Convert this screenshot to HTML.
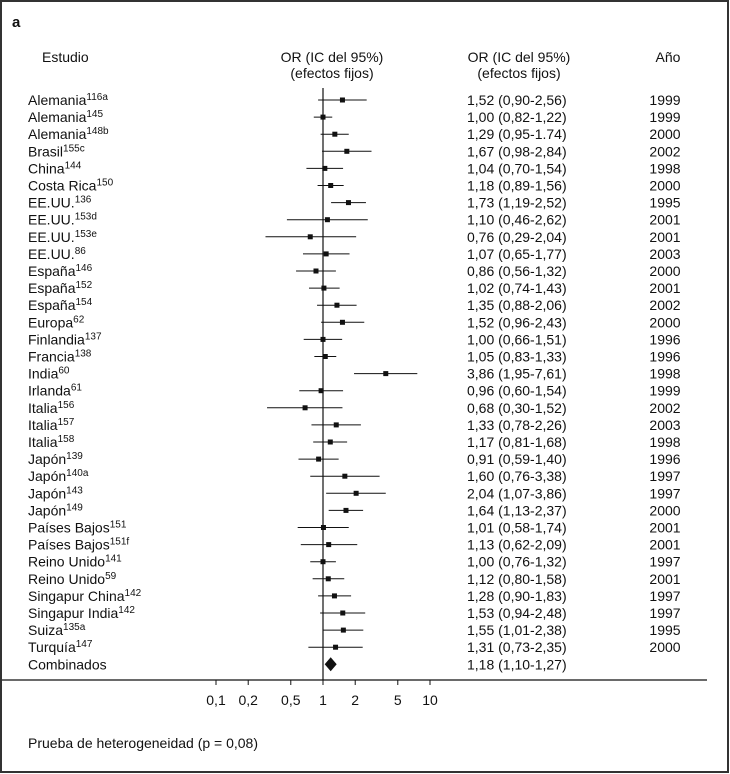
<!DOCTYPE html>
<html><head><meta charset="utf-8"><style>
html,body{margin:0;padding:0;background:#fff}
svg{display:block;font-family:"Liberation Sans",sans-serif}
text{font-size:14px;fill:#111}
</style></head><body>
<svg width="730" height="774" viewBox="0 0 730 774">
<rect x="1" y="1" width="727" height="771" fill="#fff" stroke="#333" stroke-width="2"/>
<text x="12" y="27" style="font-weight:bold;font-size:15px">a</text>
<text x="42" y="62">Estudio</text>
<text x="332" y="62" text-anchor="middle">OR (IC del 95%)</text>
<text x="332" y="78" text-anchor="middle">(efectos fijos)</text>
<text x="519" y="62" text-anchor="middle">OR (IC del 95%)</text>
<text x="519" y="78" text-anchor="middle">(efectos fijos)</text>
<text x="668" y="62" text-anchor="middle">Año</text>
<g id="rows"></g>
<text x="28" y="748">Prueba de heterogeneidad (p = 0,08)</text>
</svg>
<script>
const studies=["Alemania","Alemania","Alemania","Brasil","China","Costa Rica","EE.UU.","EE.UU.","EE.UU.","EE.UU.","España","España","España","Europa","Finlandia","Francia","India","Irlanda","Italia","Italia","Italia","Japón","Japón","Japón","Japón","Países Bajos","Países Bajos","Reino Unido","Reino Unido","Singapur China","Singapur India","Suiza","Turquía"];
const refs=["116a","145","148b","155c","144","150","136","153d","153e","86","146","152","154","62","137","138","60","61","156","157","158","139","140a","143","149","151","151f","141","59","142","142","135a","147"];
const orVals=[1.52,1.00,1.29,1.67,1.04,1.18,1.73,1.10,0.76,1.07,0.86,1.02,1.35,1.52,1.00,1.05,3.86,0.96,0.68,1.33,1.17,0.91,1.60,2.04,1.64,1.01,1.13,1.00,1.12,1.28,1.53,1.55,1.31];
const lowVals=[0.90,0.82,0.95,0.98,0.70,0.89,1.19,0.46,0.29,0.65,0.56,0.74,0.88,0.96,0.66,0.83,1.95,0.60,0.30,0.78,0.81,0.59,0.76,1.07,1.13,0.58,0.62,0.76,0.80,0.90,0.94,1.01,0.73];
const highVals=[2.56,1.22,1.74,2.84,1.54,1.56,2.52,2.62,2.04,1.77,1.32,1.43,2.06,2.43,1.51,1.33,7.61,1.54,1.52,2.26,1.68,1.40,3.38,3.86,2.37,1.74,2.09,1.32,1.58,1.83,2.48,2.38,2.35];
const orLabels=["1,52 (0,90-2,56)","1,00 (0,82-1,22)","1,29 (0,95-1.74)","1,67 (0,98-2,84)","1,04 (0,70-1,54)","1,18 (0,89-1,56)","1,73 (1,19-2,52)","1,10 (0,46-2,62)","0,76 (0,29-2,04)","1,07 (0,65-1,77)","0,86 (0,56-1,32)","1,02 (0,74-1,43)","1,35 (0,88-2,06)","1,52 (0,96-2,43)","1,00 (0,66-1,51)","1,05 (0,83-1,33)","3,86 (1,95-7,61)","0,96 (0,60-1,54)","0,68 (0,30-1,52)","1,33 (0,78-2,26)","1,17 (0,81-1,68)","0,91 (0,59-1,40)","1,60 (0,76-3,38)","2,04 (1,07-3,86)","1,64 (1,13-2,37)","1,01 (0,58-1,74)","1,13 (0,62-2,09)","1,00 (0,76-1,32)","1,12 (0,80-1,58)","1,28 (0,90-1,83)","1,53 (0,94-2,48)","1,55 (1,01-2,38)","1,31 (0,73-2,35)"];
const years=["1999","1999","2000","2002","1998","2000","1995","2001","2001","2003","2000","2001","2002","2000","1996","1996","1998","1999","2002","2003","1998","1996","1997","1997","2000","2001","2001","1997","2001","1997","1997","1995","2000"];
const pooled=[1.18,1.10,1.27];
const pooledLabel="1,18 (1,10-1,27)";
const tickVals=[0.1,0.2,0.5,1,2,5,10];
const tickLabels=["0,1","0,2","0,5","1","2","5","10"];

const NS="http://www.w3.org/2000/svg";
const g=document.getElementById('rows');
const x=v=>323+107*Math.log10(v);
const y=i=>100+17.1*i;
function el(t,a,p){const e=document.createElementNS(NS,t);for(const k in a)e.setAttribute(k,a[k]);(p||g).appendChild(e);return e;}
function txt(s,xx,yy,anchor){const e=el('text',{x:xx,y:yy});if(anchor)e.setAttribute('text-anchor',anchor);e.textContent=s;return e;}
const axisY=680;
let vl=el('line',{x1:x(1),x2:x(1),y1:88,y2:axisY,stroke:'#111','stroke-width':1.2});


studies.forEach((s,i)=>{
  const yy=y(i);
  const t=el('text',{x:28,y:yy+5});
  
  
  t.appendChild(document.createTextNode(s));
  const sp=document.createElementNS(NS,'tspan');sp.setAttribute('dy','-5');sp.setAttribute('style','font-size:10px');sp.textContent=refs[i];t.appendChild(sp);
  const l=el('line',{x1:x(lowVals[i]),x2:x(highVals[i]),y1:yy,y2:yy,stroke:'#111','stroke-width':1});
  
  
  const r=el('rect',{x:x(orVals[i])-2.5,y:yy-2.5,width:5,height:5,fill:'#111'});
  
  
  const o=txt(orLabels[i],467,yy+5);
  
  
  const yr=txt(years[i],665,yy+5,'middle');
  
  
});
const py=y(studies.length);
const cl=txt('Combinados',28,py+5);


const cx=x(pooled[0]);
const lx=Math.min(x(pooled[1]),cx-6), rx=Math.max(x(pooled[2]),cx+6);
const d=el('polygon',{points:`${lx},${py} ${cx},${py-7} ${rx},${py} ${cx},${py+7}`,fill:'#111'});


const pl=txt(pooledLabel,467,py+5);


const ax=el('line',{x1:2,x2:707,y1:axisY,y2:axisY,stroke:'#111','stroke-width':1.2});


tickVals.forEach((v,i)=>{
  const tk=el('line',{x1:x(v),x2:x(v),y1:axisY,y2:axisY+5,stroke:'#111'});
  
  
  const tl=txt(tickLabels[i],x(v),axisY+25,'middle');
  
  
});
</script>
</body></html>
